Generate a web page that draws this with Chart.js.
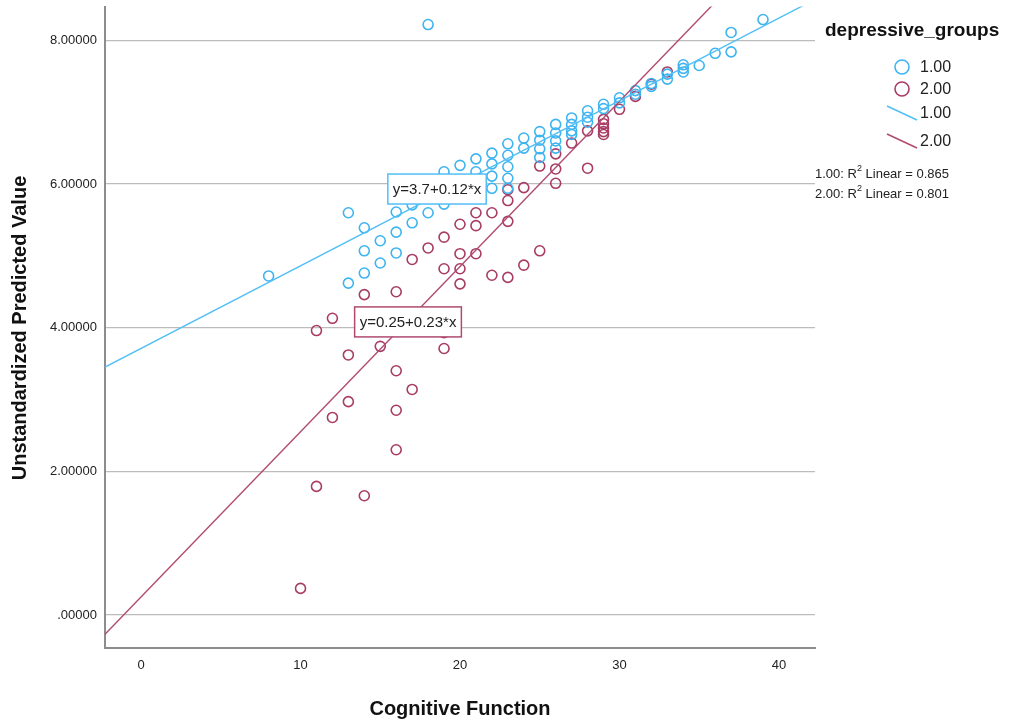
<!DOCTYPE html>
<html>
<head>
<meta charset="utf-8">
<script src="https://cdn.jsdelivr.net/npm/chart.js@4/dist/chart.umd.min.js"></script>
<style>
html,body{margin:0;padding:0;background:#fff;}
canvas{display:block;}
</style>
</head>
<body>
<canvas id="c" width="1019" height="723"></canvas>
<script>
// ---- Data ----
const groupNames = ["1.00", "2.00"];

const g1X = [8, 13, 13, 14, 14, 14, 15, 15, 16, 16, 16, 17, 17, 18, 18, 19, 19, 20, 21, 21,
  22, 22, 22, 22, 23, 23, 23, 23, 23, 24, 24, 25, 25, 25, 25, 26, 26, 26, 26,
  27, 27, 27, 27, 28, 28, 28, 29, 29, 30, 30, 31, 31, 32, 32, 33, 33, 34, 34, 34,
  35, 36, 37, 37, 39];
const g1Y = [4.72, 5.60, 4.62, 5.39, 5.07, 4.76, 5.21, 4.90, 5.61, 5.33, 5.04, 5.71, 5.46, 8.22, 5.60, 6.17, 5.72, 6.26, 6.35, 6.17,
  6.43, 6.28, 6.11, 5.94, 6.56, 6.40, 6.24, 6.08, 5.94, 6.64, 6.50, 6.73, 6.61, 6.49, 6.37, 6.83, 6.71, 6.60, 6.50,
  6.92, 6.83, 6.74, 6.69, 7.02, 6.93, 6.86, 7.11, 7.05, 7.20, 7.13, 7.30, 7.25, 7.40, 7.36, 7.53, 7.46, 7.66, 7.61, 7.56,
  7.65, 7.82, 8.11, 7.84, 8.29];

const g2X = [10, 11, 11, 12, 12, 13, 13, 14, 14, 15, 16, 16, 16, 16, 17, 17, 18, 19, 19, 19, 19,
  20, 20, 20, 20, 21, 21, 21, 22, 22, 23, 23, 23, 23, 24, 24, 25, 25, 26, 26, 26,
  27, 28, 28, 29, 29, 29, 29, 29, 30, 31, 32, 33];
const g2Y = [0.37, 3.96, 1.79, 4.13, 2.75, 3.62, 2.97, 4.46, 1.66, 3.74, 4.50, 3.40, 2.85, 2.30, 4.95, 3.14, 5.11, 5.26, 4.82, 3.93, 3.71,
  5.44, 5.03, 4.82, 4.61, 5.60, 5.42, 5.03, 5.60, 4.73, 5.92, 5.77, 5.48, 4.70, 5.95, 4.87, 6.25, 5.07, 6.42, 6.21, 6.01,
  6.57, 6.74, 6.22, 6.90, 6.84, 6.78, 6.73, 6.69, 7.04, 7.22, 7.39, 7.56];

// Linear fits (intercept, slope) and their labels, as shown in the reference
const fitIntercepts = [3.71, 0.25];
const fitSlopes = [0.115, 0.23];
const fitLabels = ["y=3.7+0.12*x", "y=0.25+0.23*x"];
const r2Labels = ["1.00: R", "2.00: R"];
const r2Values = ["0.865", "0.801"];

const xTicks = [0, 10, 20, 30, 40];
const yTicks = [0, 2, 4, 6, 8];

const xTitle = "Cognitive Function";
const yTitle = "Unstandardized Predicted Value";
const legendTitle = "depressive_groups";

// ---- Styling ----
const X_MIN = -2.26, X_MAX = 42.26, Y_MIN = -0.46, Y_MAX = 8.47;
const colors = ["#3eb4f1", "#a83c64"];
const lineColors = ["#52bff5", "#b04a70"];
const labelAnchors = [{x: 18.56, y: 5.93}, {x: 16.74, y: 4.08}];
const FONT = "'Liberation Sans', Arial, sans-serif";

function pts(xs, ys) { return xs.map((x, i) => ({x: x, y: ys[i]})); }
function fitPts(k) {
  return [X_MIN, X_MAX].map(x => ({x: x, y: fitIntercepts[k] + fitSlopes[k] * x}));
}

const overlay = {
  id: 'overlay',
  afterDatasetsDraw(chart) {
    const ctx = chart.ctx;
    const xs = chart.scales.x, ys = chart.scales.y;
    ctx.save();
    ctx.font = "15px " + FONT;
    ctx.textAlign = "center";
    ctx.textBaseline = "middle";
    fitLabels.forEach((t, k) => {
      const cx = xs.getPixelForValue(labelAnchors[k].x);
      const cy = ys.getPixelForValue(labelAnchors[k].y);
      const w = ctx.measureText(t).width + 10, h = 30;
      ctx.fillStyle = "#fff";
      ctx.fillRect(cx - w / 2, cy - h / 2, w, h);
      ctx.strokeStyle = lineColors[k];
      ctx.lineWidth = 1.5;
      ctx.strokeRect(cx - w / 2, cy - h / 2, w, h);
      ctx.fillStyle = "#222";
      ctx.fillText(t, cx, cy + 1);
    });
    ctx.restore();
  },
  afterDraw(chart) {
    const ctx = chart.ctx;
    ctx.save();
    ctx.fillStyle = "#111";
    ctx.font = "bold 20px " + FONT;
    ctx.textAlign = "center";
    ctx.textBaseline = "middle";
    ctx.fillText(xTitle, 460, 709);
    ctx.save();
    ctx.translate(20, 328);
    ctx.rotate(-Math.PI / 2);
    ctx.fillText(yTitle, 0, 0);
    ctx.restore();
    ctx.textAlign = "left";
    ctx.font = "bold 19px " + FONT;
    ctx.fillText(legendTitle, 825, 31);
    ctx.font = "16px " + FONT;
    ctx.fillStyle = "#222";
    const cy = [67, 89];
    groupNames.forEach((g, k) => {
      ctx.beginPath();
      ctx.arc(902, cy[k], 7, 0, Math.PI * 2);
      ctx.strokeStyle = colors[k];
      ctx.lineWidth = 1.6;
      ctx.stroke();
      ctx.fillText(g, 920, cy[k] + 1);
    });
    const ly = [112, 140];
    groupNames.forEach((g, k) => {
      ctx.beginPath();
      ctx.moveTo(887, ly[k] - 6);
      ctx.lineTo(917, ly[k] + 8);
      ctx.strokeStyle = lineColors[k];
      ctx.lineWidth = 1.5;
      ctx.stroke();
      ctx.fillText(g, 920, ly[k] + 2);
    });
    const ry = [174, 194];
    r2Labels.forEach((t, k) => {
      ctx.font = "13px " + FONT;
      let x = 815;
      ctx.fillText(t, x, ry[k]);
      x += ctx.measureText(t).width;
      ctx.font = "9px " + FONT;
      ctx.fillText("2", x, ry[k] - 5);
      x += ctx.measureText("2").width;
      ctx.font = "13px " + FONT;
      ctx.fillText(" Linear = " + r2Values[k], x, ry[k]);
    });
    ctx.restore();
  }
};

new Chart(document.getElementById('c'), {
  type: 'scatter',
  data: {
    datasets: [
      {label: groupNames[0] + " fit", data: fitPts(0), showLine: true, borderColor: lineColors[0], borderWidth: 1.4, pointRadius: 0, order: 1},
      {label: groupNames[1] + " fit", data: fitPts(1), showLine: true, borderColor: lineColors[1], borderWidth: 1.4, pointRadius: 0, order: 1},
      {label: groupNames[0], data: pts(g1X, g1Y), pointStyle: 'circle', pointRadius: 5, borderWidth: 1.6,
        borderColor: colors[0], backgroundColor: 'rgba(0,0,0,0)', order: 2},
      {label: groupNames[1], data: pts(g2X, g2Y), pointStyle: 'circle', pointRadius: 5, borderWidth: 1.6,
        borderColor: colors[1], backgroundColor: 'rgba(0,0,0,0)', order: 2}
    ]
  },
  options: {
    responsive: false,
    animation: false,
    devicePixelRatio: 1,
    layout: {padding: {top: 5, right: 204, left: 0, bottom: 0}},
    plugins: {legend: {display: false}, tooltip: {enabled: false}},
    scales: {
      x: {
        type: 'linear', min: X_MIN, max: X_MAX,
        afterFit: s => { s.height = 75; s.paddingLeft = 0; s.paddingRight = 0; },
        afterBuildTicks: s => { s.ticks = xTicks.map(v => ({value: v})); },
        grid: {color: 'rgba(0,0,0,0)', drawTicks: false},
        border: {display: true, color: '#8c8c8c', width: 2},
        ticks: {padding: 10, color: '#222', font: {size: 13, family: FONT}, maxRotation: 0, callback: v => String(v)}
      },
      y: {
        type: 'linear', min: Y_MIN, max: Y_MAX,
        afterFit: s => { s.width = 105; s.paddingTop = 0; s.paddingBottom = 0; },
        afterBuildTicks: s => { s.ticks = yTicks.map(v => ({value: v})); },
        grid: {color: '#bcbcbc', lineWidth: 1.2, drawTicks: false},
        border: {display: true, color: '#8c8c8c', width: 2},
        ticks: {padding: 8, color: '#222', font: {size: 13, family: FONT},
          callback: v => v === 0 ? ".00000" : v.toFixed(5)}
      }
    }
  },
  plugins: [overlay]
});
</script>
</body>
</html>
